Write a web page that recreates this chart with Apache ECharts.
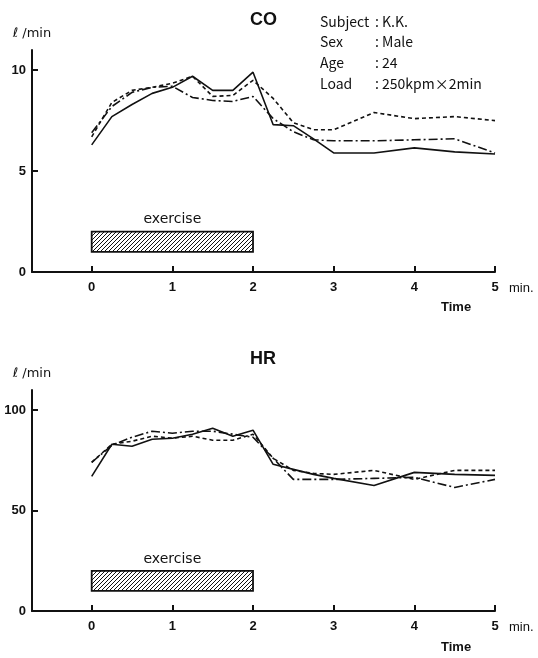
<!DOCTYPE html>
<html>
<head>
<meta charset="utf-8">
<script src="https://cdn.jsdelivr.net/npm/echarts@6.0.0/dist/echarts.min.js"></script>
<style>
  html, body { margin: 0; padding: 0; background: #fff; }
  #main { width: 538px; height: 658px; }
</style>
</head>
<body>
<div id="main"></div>
<script>
// sample times (min) shared by all curves
var times = [0, 0.25, 0.5, 0.75, 1, 1.25, 1.5, 1.75, 2, 2.25, 2.5, 2.75, 3, 3.5, 4, 4.5, 5];

// CO, l/min
var coSolid   = [6.3, 7.7, 8.3, 8.85, 9.15, 9.7, 9.0, 9.0, 9.9, 7.3, 7.25, 6.6, 5.9, 5.9, 6.15, 5.95, 5.85];
var coDashed  = [6.7, 8.4, 9.0, 9.15, 9.35, 9.7, 8.7, 8.75, 9.5, 8.6, 7.4, 7.05, 7.05, 7.9, 7.6, 7.7, 7.5];
var coDashDot = [6.9, 8.2, 8.9, 9.15, 9.2, 8.65, 8.5, 8.45, 8.7, 7.6, 6.95, 6.55, 6.5, 6.5, 6.55, 6.6, 5.9];

// HR
var hrSolid   = [67, 83, 82, 85.5, 86, 88, 91, 87, 90, 73, 70.5, 68, 66, 62.5, 69, 68, 67.5];
var hrDashed  = [74, 83, 84.5, 87, 86, 87, 85, 85, 88, 76, 70, 68.5, 68, 70, 65.5, 70, 70];
var hrDashDot = [74, 82.5, 86.5, 89.5, 88.5, 89.5, 89.5, 88, 86.5, 76, 65.5, 65.5, 65.5, 66, 66.5, 61.5, 65.5];

var xTicks = [0, 1, 2, 3, 4, 5];
var coTicks = [0, 5, 10];
var hrTicks = [0, 50, 100];

var exercise = [0, 2];   // min
var coBox = [1, 2];
var hrBox = [10, 20];

function pairs(ys) {
    return times.map(function (t, i) { return [t, ys[i]]; });
}

// diagonal hatch for the exercise bar
var hatch = document.createElement('canvas');
hatch.width = 4; hatch.height = 4;
var hc = hatch.getContext('2d');
hc.strokeStyle = '#111';
hc.lineWidth = 1;
hc.beginPath();
hc.moveTo(0, 4); hc.lineTo(4, 0);
hc.moveTo(-1, 1); hc.lineTo(1, -1);
hc.moveTo(3, 5); hc.lineTo(5, 3);
hc.stroke();

var tickFont = { color: '#111', fontFamily: 'Liberation Sans Narrow, Liberation Sans, sans-serif', fontWeight: 'bold', fontSize: 13 };
var infoFont = 'Noto Sans CJK JP, sans-serif';

function xAxis(idx) {
    return {
        type: 'value', gridIndex: idx, min: -0.74, max: 5,
        name: 'min.', nameLocation: 'end', nameGap: 14,
        nameTextStyle: { color: '#111', fontFamily: 'Liberation Sans, sans-serif', fontSize: 13, verticalAlign: 'top', padding: [10, 0, 0, 0] },
        axisLine: { onZero: false, lineStyle: { color: '#111', width: 2 } },
        axisTick: { inside: true, length: 6, lineStyle: { color: '#111', width: 2 }, customValues: xTicks },
        axisLabel: Object.assign({ margin: 9, customValues: xTicks }, tickFont),
        splitLine: { show: false }
    };
}
function yAxis(idx, max, ticks) {
    return {
        type: 'value', gridIndex: idx, min: 0, max: max,
        name: 'ℓ /min', nameLocation: 'end', nameGap: 10,
        nameTextStyle: { color: '#111', fontFamily: 'DejaVu Sans, sans-serif', fontSize: 13 },
        axisLine: { show: true, onZero: false, lineStyle: { color: '#111', width: 2 } },
        axisTick: { show: true, inside: true, length: 6, lineStyle: { color: '#111', width: 2 }, customValues: ticks },
        axisLabel: Object.assign({ margin: 6, customValues: ticks }, tickFont),
        splitLine: { show: false }
    };
}
function line(data, type, idx, box) {
    var s = {
        type: 'line', xAxisIndex: idx, yAxisIndex: idx, data: pairs(data),
        showSymbol: false, silent: true,
        lineStyle: { color: '#111', width: 1.6, type: type }
    };
    if (box) {
        s.markArea = {
            silent: true,
            itemStyle: { color: { image: hatch, repeat: 'repeat' }, borderColor: '#111', borderWidth: 1.8 },
            label: { show: true, position: 'top', distance: 4, formatter: 'exercise', color: '#111',
                     fontFamily: 'DejaVu Sans, sans-serif', fontSize: 14 },
            data: [[{ coord: [exercise[0], box[0]] }, { coord: [exercise[1], box[1]] }]]
        };
    }
    return s;
}

var myChart = echarts.init(document.getElementById('main'));
var option = {
    animation: false,
    backgroundColor: '#fff',
    title: [
        { text: 'CO', left: 245, top: 6, textStyle: { fontFamily: 'Liberation Sans, sans-serif', fontSize: 18, fontWeight: 'bold', color: '#111' } },
        { text: 'HR', left: 245, top: 345, textStyle: { fontFamily: 'Liberation Sans, sans-serif', fontSize: 18, fontWeight: 'bold', color: '#111' } }
    ],
    grid: [
        { left: 32, top: 50, width: 463, height: 222, outerBoundsMode: 'none' },
        { left: 32, top: 390, width: 463, height: 221, outerBoundsMode: 'none' }
    ],
    xAxis: [xAxis(0), xAxis(1)],
    yAxis: [yAxis(0, 11, coTicks), yAxis(1, 110, hrTicks)],
    series: [
        line(coSolid, 'solid', 0, coBox),
        line(coDashed, [4, 3], 0),
        line(coDashDot, [9, 3, 2, 3], 0),
        line(hrSolid, 'solid', 1, hrBox),
        line(hrDashed, [4, 3], 1),
        line(hrDashDot, [9, 3, 2, 3], 1)
    ],
    graphic: [
        { type: 'text', left: 320, top: 11, style: { text: 'Subject\nSex\nAge\nLoad', lineHeight: 20.7, font: '14px ' + infoFont, fill: '#111' } },
        { type: 'text', left: 375, top: 11, style: { text: ': K.K.\n: Male\n: 24\n: 250kpm×2min', lineHeight: 20.7, font: '14px ' + infoFont, fill: '#111' } },
        { type: 'text', left: 441, top: 301, style: { text: 'Time', font: 'bold 13px Liberation Sans, sans-serif', fill: '#111' } },
        { type: 'text', left: 441, top: 641, style: { text: 'Time', font: 'bold 13px Liberation Sans, sans-serif', fill: '#111' } }
    ]
};
myChart.setOption(option);
</script>
</body>
</html>
